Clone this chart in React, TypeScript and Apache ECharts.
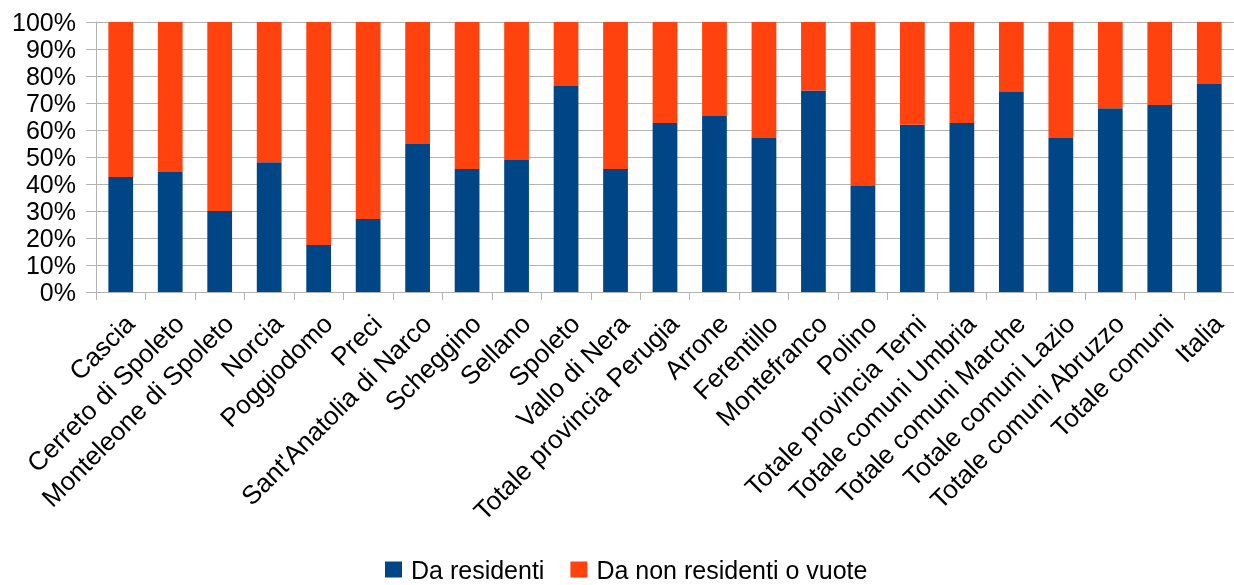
import React, { useEffect, useRef } from "react";
import * as echarts from "echarts";

const categories = [
  "Cascia",
  "Cerreto di Spoleto",
  "Monteleone di Spoleto",
  "Norcia",
  "Poggiodomo",
  "Preci",
  "Sant'Anatolia di Narco",
  "Scheggino",
  "Sellano",
  "Spoleto",
  "Vallo di Nera",
  "Totale provincia Perugia",
  "Arrone",
  "Ferentillo",
  "Montefranco",
  "Polino",
  "Totale provincia Terni",
  "Totale comuni Umbria",
  "Totale comuni Marche",
  "Totale comuni Lazio",
  "Totale comuni Abruzzo",
  "Totale comuni",
  "Italia",
];

const residenti = [
  42.6, 44.4, 30.0, 48.1, 17.4, 27.0, 54.8, 45.6, 48.9, 76.3, 45.6, 62.6,
  65.2, 57.0, 74.6, 39.3, 61.9, 62.6, 74.1, 57.0, 68.1, 69.3, 77.0,
];

const nonResidenti = residenti.map((v) => +(100 - v).toFixed(1));

const seriesNames = ["Da residenti", "Da non residenti o vuote"];
const colors = ["#004586", "#ff420e"];

export default function App() {
  const ref = useRef<HTMLDivElement>(null);
  useEffect(() => {
    if (!ref.current) return;
    const chart = echarts.init(ref.current, undefined, { renderer: "svg" });
    const font = "'Liberation Sans', Arial, sans-serif";
    chart.setOption({
      animation: false,
      color: colors,
      grid: { left: 96, top: 22, width: 1148, height: 270, containLabel: false },
      legend: {
        top: 552,
        left: 380,
        itemWidth: 17,
        itemHeight: 16,
        itemGap: 26,
        icon: "rect",
        textStyle: { fontFamily: font, fontSize: 25, color: "#000", padding: [0, 0, 0, 4] },
        data: seriesNames,
      },
      xAxis: {
        type: "category",
        data: categories,
        boundaryGap: true,
        axisLine: { lineStyle: { color: "#b3b3b3", width: 1 } },
        axisTick: { show: true, length: 8, alignWithLabel: false, lineStyle: { color: "#b3b3b3" } },
        axisLabel: {
          interval: 0,
          rotate: 45,
          margin: 18,
          verticalAlign: "top",
          fontFamily: font,
          fontSize: 26,
          color: "#000",
        },
      },
      yAxis: {
        type: "value",
        min: 0,
        max: 100,
        interval: 10,
        axisLine: { show: true, lineStyle: { color: "#b3b3b3" } },
        axisTick: { show: true, length: 10, lineStyle: { color: "#b3b3b3" } },
        splitLine: { lineStyle: { color: "#b3b3b3" } },
        axisLabel: {
          formatter: "{value}%",
          fontFamily: font,
          fontSize: 25,
          color: "#000",
          margin: 20,
        },
      },
      series: [
        {
          name: seriesNames[0],
          type: "bar",
          stack: "total",
          barWidth: "50%",
          data: residenti,
          itemStyle: { color: colors[0] },
        },
        {
          name: seriesNames[1],
          type: "bar",
          stack: "total",
          barWidth: "50%",
          data: nonResidenti,
          itemStyle: { color: colors[1] },
        },
      ],
    });
    return () => chart.dispose();
  }, []);
  return (
    <div
      ref={ref}
      style={{ position: "fixed", left: 0, top: 0, width: 1234, height: 585 }}
    />
  );
}
